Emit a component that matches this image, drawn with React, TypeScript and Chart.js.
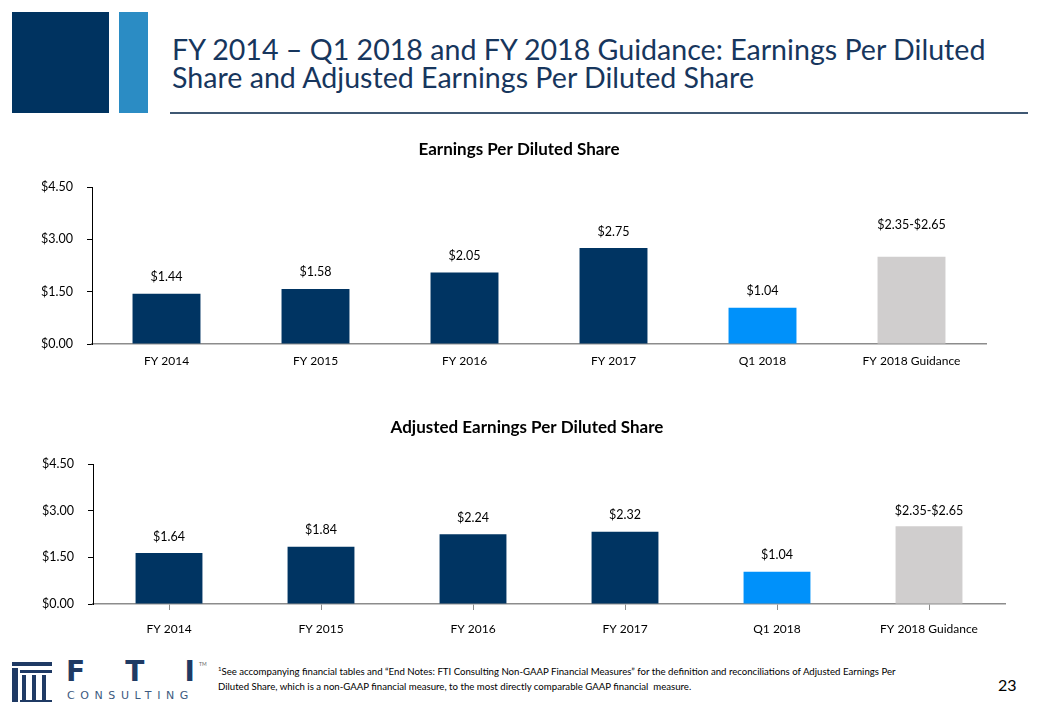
import React, { useEffect, useRef } from "react";
import { Chart, registerables } from "chart.js";

Chart.register(...registerables);

const categories = ["FY 2014", "FY 2015", "FY 2016", "FY 2017", "Q1 2018", "FY 2018 Guidance"];
const epsValues = [1.44, 1.58, 2.05, 2.75, 1.04, 2.5];
const epsLabels = ["$1.44", "$1.58", "$2.05", "$2.75", "$1.04", "$2.35-$2.65"];
const adjEpsValues = [1.64, 1.84, 2.24, 2.32, 1.04, 2.5];
const adjEpsLabels = ["$1.64", "$1.84", "$2.24", "$2.32", "$1.04", "$2.35-$2.65"];
const barColors = ["#003462", "#003462", "#003462", "#003462", "#0091FA", "#D0CECE"];
const yMin = 0;
const yMax = 4.5;
const yStep = 1.5;

const FONT = "Lato, 'Open Sans', sans-serif";

const valueLabelPlugin = {
  id: "valueLabels",
  afterDatasetsDraw(chart: any, _args: any, opts: any) {
    const { ctx } = chart;
    const meta = chart.getDatasetMeta(0);
    ctx.save();
    ctx.font = `12.5px ${FONT}`;
    ctx.fillStyle = "#000";
    ctx.textAlign = "center";
    ctx.textBaseline = "middle";
    meta.data.forEach((bar: any, i: number) => {
      const lift = (opts.lifts && opts.lifts[i]) || 16.5;
      ctx.fillText(opts.labels[i], bar.x, bar.y - lift);
    });
    ctx.restore();
  },
};

type Cfg = {
  title: string;
  values: number[];
  labels: string[];
  lifts: number[];
  top: number;
  height: number;
  padLeft: number;
  padRight: number;
  yWidth: number;
  rightWidth: number;
  xHeight: number;
  titleTop: number;
  titleBottom: number;
  barPct: number;
  xTicks: boolean;
  xPad: number;
};

function BarChart({ cfg }: { cfg: Cfg }) {
  const ref = useRef<HTMLCanvasElement>(null);
  useEffect(() => {
    if (!ref.current) return;
    const chart = new Chart(ref.current, {
      type: "bar",
      data: {
        labels: categories,
        datasets: [
          {
            data: cfg.values,
            backgroundColor: barColors,
            borderWidth: 0,
            barPercentage: cfg.barPct,
            categoryPercentage: 1,
            yAxisID: "y",
          },
        ],
      },
      plugins: [valueLabelPlugin],
      options: {
        responsive: false,
        animation: false,
        devicePixelRatio: 1,
        layout: { padding: { left: cfg.padLeft, right: cfg.padRight, top: 0, bottom: 0 } },
        plugins: {
          legend: { display: false },
          tooltip: { enabled: false },
          title: {
            display: true,
            text: cfg.title,
            color: "#000",
            font: { family: FONT, size: 17, weight: "bold" },
            padding: { top: cfg.titleTop, bottom: cfg.titleBottom },
          },
          valueLabels: { labels: cfg.labels, lifts: cfg.lifts },
        } as any,
        scales: {
          x: {
            afterFit: (s: any) => {
              s.height = cfg.xHeight;
            },
            grid: {
              display: cfg.xTicks,
              drawOnChartArea: false,
              drawTicks: cfg.xTicks,
              tickLength: 6,
              offset: false,
              color: "#8C8C8C",
            },
            border: { display: true, color: "#8C8C8C", width: 1.5 },
            ticks: {
              color: "#000",
              font: { family: FONT, size: 12 },
              padding: cfg.xPad,
              maxRotation: 0,
              autoSkip: false,
            },
          },
          y: {
            position: "left",
            min: yMin,
            max: yMax,
            afterFit: (s: any) => {
              s.width = cfg.yWidth;
            },
            grid: {
              display: true,
              drawOnChartArea: false,
              drawTicks: true,
              tickLength: 5,
              color: "#000",
            },
            border: { display: true, color: "#000", width: 1 },
            ticks: {
              stepSize: yStep,
              color: "#000",
              padding: 14,
              font: { family: FONT, size: 12.5 },
              callback: (v: any) => "$" + Number(v).toFixed(2),
            },
          },
          spacer: {
            type: "linear",
            position: "right",
            display: true,
            afterFit: (s: any) => {
              s.width = cfg.rightWidth;
            },
            grid: { display: false },
            border: { display: false },
            ticks: { display: false },
          },
        },
      } as any,
    });
    return () => chart.destroy();
  }, [cfg]);
  return (
    <canvas
      ref={ref}
      width={1040}
      height={cfg.height}
      style={{ position: "absolute", left: 0, top: cfg.top, width: 1040, height: cfg.height, display: "block" }}
    />
  );
}

const topCfg: Cfg = {
  title: "Earnings Per Diluted Share",
  values: epsValues,
  labels: epsLabels,
  lifts: [16.5, 16.5, 16.5, 16.5, 16.5, 32],
  top: 130,
  height: 250,
  padLeft: 0,
  padRight: 2,
  yWidth: 92,
  rightWidth: 52,
  xHeight: 36,
  titleTop: 9.8,
  titleBottom: 26.8,
  barPct: 0.456,
  xTicks: false,
  xPad: 10,
};

const bottomCfg: Cfg = {
  title: "Adjusted Earnings Per Diluted Share",
  values: adjEpsValues,
  labels: adjEpsLabels,
  lifts: [16.5, 16.5, 16.5, 16.5, 16.5, 15],
  top: 400,
  height: 250,
  padLeft: 14,
  padRight: 0,
  yWidth: 79,
  rightWidth: 35,
  xHeight: 46,
  titleTop: 17.8,
  titleBottom: 25.8,
  barPct: 0.44,
  xTicks: true,
  xPad: 12,
};

function Logo() {
  const navy = "#1F3A64";
  const box = (l: number, t: number, w: number, h: number, c = navy) => (
    <div style={{ position: "absolute", left: l, top: t, width: w, height: h, background: c }} />
  );
  return (
    <div style={{ position: "absolute", left: 0, top: 0 }}>
      {box(12, 662, 40, 4)}
      {box(12, 668, 6, 34)}
      {box(20, 670, 32, 3)}
      {box(22, 675, 4, 27)}
      {box(32, 675, 4, 27)}
      {box(42, 675, 4, 27)}
      {box(20, 700, 32, 2)}
      <div
        style={{
          position: "absolute",
          left: 66,
          top: 656,
          width: 129,
          fontFamily: "'DejaVu Sans', sans-serif",
          fontWeight: "bold",
          fontSize: 28,
          color: navy,
          display: "flex",
          justifyContent: "space-between",
          lineHeight: "32px",
        }}
      >
        <span>F</span>
        <span>T</span>
        <span>I</span>
      </div>
      <div
        style={{
          position: "absolute",
          left: 199,
          top: 661,
          fontSize: 5,
          fontFamily: FONT,
          color: "#666",
        }}
      >
        TM
      </div>
      <div
        style={{
          position: "absolute",
          left: 67,
          top: 689,
          fontFamily: "'DejaVu Sans', sans-serif",
          fontSize: 11,
          letterSpacing: 5.6,
          color: "#3C5A80",
          lineHeight: "13px",
          whiteSpace: "nowrap",
        }}
      >
        CONSULTING
      </div>
    </div>
  );
}

export default function App() {
  return (
    <div style={{ position: "fixed", left: 0, top: 0, width: 1040, height: 720, background: "#fff", overflow: "hidden" }}>
      <div style={{ position: "absolute", left: 12, top: 12, width: 97, height: 101, background: "#003360" }} />
      <div style={{ position: "absolute", left: 119, top: 12, width: 29, height: 101, background: "#2B8CC4" }} />
      <div
        style={{
          position: "absolute",
          left: 172,
          top: 35,
          fontFamily: FONT,
          fontSize: 28.6,
          lineHeight: "28px",
          color: "#17365D",
          whiteSpace: "nowrap",
        }}
      >
        FY 2014 – Q1 2018 and FY 2018 Guidance: Earnings Per Diluted
        <br />
        Share and Adjusted Earnings Per Diluted Share
      </div>
      <div style={{ position: "absolute", left: 170, top: 112, width: 858, height: 2, background: "#3F5873" }} />

      <BarChart cfg={topCfg} />
      <BarChart cfg={bottomCfg} />

      <Logo />
      <div
        style={{
          position: "absolute",
          left: 218,
          top: 661,
          fontFamily: FONT,
          fontSize: 9.65,
          lineHeight: "15px",
          color: "#000",
          whiteSpace: "nowrap",
        }}
      >
        <sup style={{ fontSize: 6 }}>1</sup>See accompanying financial tables and “End Notes: FTI Consulting Non-GAAP Financial Measures” for the definition and reconciliations of Adjusted Earnings Per
        <br />
        Diluted Share, which is a non-GAAP financial measure, to the most directly comparable GAAP financial&nbsp; measure.
      </div>
      <div
        style={{
          position: "absolute",
          left: 998,
          top: 675,
          fontFamily: FONT,
          fontSize: 16,
          lineHeight: "20px",
          color: "#000",
        }}
      >
        23
      </div>
    </div>
  );
}
